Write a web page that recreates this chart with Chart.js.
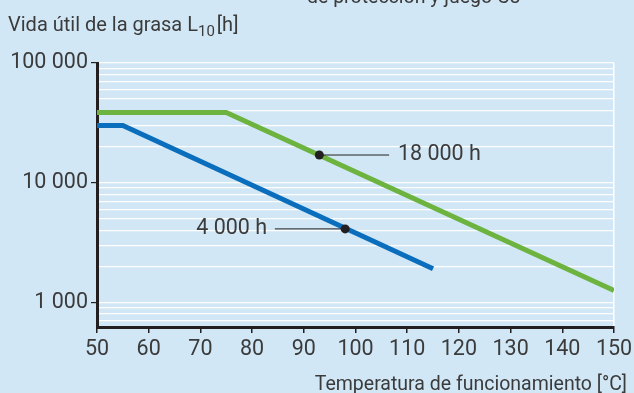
<!DOCTYPE html>
<html>
<head>
<meta charset="utf-8">
<script src="https://cdn.jsdelivr.net/npm/chart.js@4"></script>
<style>
  html, body { margin: 0; padding: 0; background: #d1e7f6; }
  #wrap { width: 634px; height: 393px; }
</style>
</head>
<body>
<div id="wrap"><canvas id="grease" width="634" height="393"></canvas></div>
<script>
// temperatures [°C] and grease life L10 [h]
const greenTemps = [50, 75, 150];
const greenLife = [38500, 38500, 1250];
const blueTemps = [50, 55, 115];
const blueLife = [30000, 30000, 1900];

// marked points and their labels
const markTemps = [93, 98];
const markLife = [17000, 4100];
const markLabels = ['18 000 h', '4 000 h'];
const leaderEnds = [106.5, 84.4];   // where the leader line stops
const labelTemps = [108.2, 82.9];   // where the label text sits

// axes
const tempTicks = [50, 60, 70, 80, 90, 100, 110, 120, 130, 140, 150];
const lifeGrid = [700, 800, 900, 1000, 2000, 3000, 4000, 5000, 6000, 7000, 8000, 9000,
  10000, 20000, 30000, 40000, 50000, 60000, 70000, 80000, 90000, 100000];
const lifeLabels = [1000, 10000, 100000];

const ink = '#231f20';
const textCol = '#3b3b3b';
const fontFam = 'Roboto, "DejaVu Sans", sans-serif';

const toPts = (xs, ys) => xs.map((x, i) => ({ x: x, y: ys[i] }));
const spaced = v => String(v).replace(/\B(?=(\d{3})+(?!\d))/g, ' ');

const leaderSets = markTemps.map((t, i) => ({
  data: [{ x: t, y: markLife[i] }, { x: leaderEnds[i], y: markLife[i] }],
  borderColor: ink,
  borderWidth: 1,
  pointRadius: 0,
  order: 1
}));

const labelsPlugin = {
  id: 'labels',
  afterDraw(chart) {
    const ctx = chart.ctx;
    const xs = chart.scales.x, ys = chart.scales.y;
    ctx.save();
    ctx.fillStyle = textCol;
    ctx.textBaseline = 'middle';
    ctx.font = '21.5px ' + fontFam;
    markLabels.forEach((txt, i) => {
      ctx.textAlign = labelTemps[i] > markTemps[i] ? 'left' : 'right';
      ctx.fillText(txt, xs.getPixelForValue(labelTemps[i]), ys.getPixelForValue(markLife[i]));
    });

    ctx.textBaseline = 'alphabetic';
    ctx.textAlign = 'left';
    ctx.font = '19.5px ' + fontFam;
    // cut off line of the caption above the chart
    ctx.fillText('de protección y juego C3', 307, 3);

    // y axis title with subscript
    let x = 8;
    const base = 31;
    ctx.font = '20px ' + fontFam;
    ctx.fillText('Vida útil de la grasa L', x, base);
    x += ctx.measureText('Vida útil de la grasa L').width;
    ctx.font = '15px ' + fontFam;
    ctx.fillText('10', x, base + 5);
    x += ctx.measureText('10').width + 2;
    ctx.font = '20px ' + fontFam;
    ctx.fillText('[h]', x, base);

    // x axis title
    ctx.textAlign = 'right';
    ctx.font = '19.5px ' + fontFam;
    ctx.fillText('Temperatura de funcionamiento [°C]', 627, 390);
    ctx.restore();
  }
};

new Chart(document.getElementById('grease'), {
  type: 'line',
  data: {
    datasets: [
      {
        data: toPts(markTemps, markLife),
        showLine: false,
        pointRadius: 4.5,
        pointBackgroundColor: ink,
        pointBorderWidth: 0,
        order: 0
      },
      ...leaderSets,
      {
        data: toPts(greenTemps, greenLife),
        borderColor: '#6cb33f',
        borderWidth: 5,
        pointRadius: 0,
        order: 2
      },
      {
        data: toPts(blueTemps, blueLife),
        borderColor: '#0a6ebd',
        borderWidth: 5,
        pointRadius: 0,
        order: 2
      }
    ]
  },
  options: {
    responsive: false,
    animation: false,
    layout: { padding: { left: 0, top: 63, right: 20, bottom: 0 } },
    plugins: { legend: { display: false }, tooltip: { enabled: false } },
    scales: {
      x: {
        type: 'linear',
        min: 50,
        max: 150,
        afterBuildTicks: s => { s.ticks = tempTicks.map(v => ({ value: v })); },
        afterFit: s => { s.height = 66; s.paddingLeft = 0; s.paddingRight = 0; },
        border: { display: true, color: ink, width: 3 },
        grid: {
          color: c => c.tick && c.tick.value === 150 ? '#ffffff' : 'rgba(0,0,0,0)',
          lineWidth: 1.5,
          tickColor: ink,
          tickLength: 6,
          tickWidth: 1.5
        },
        ticks: {
          color: textCol,
          padding: 4,
          font: { family: fontFam, size: 21.5 },
          maxRotation: 0
        }
      },
      y: {
        type: 'logarithmic',
        min: 620,
        max: 100000,
        afterBuildTicks: s => { s.ticks = lifeGrid.map(v => ({ value: v })); },
        afterFit: s => { s.width = 97; s.paddingTop = 0; s.paddingBottom = 0; },
        border: { display: true, color: ink, width: 3 },
        grid: {
          color: '#ffffff',
          lineWidth: 1.2,
          tickColor: c => c.tick && lifeLabels.includes(c.tick.value) ? ink : 'rgba(0,0,0,0)',
          tickLength: 6,
          tickWidth: 1.2
        },
        ticks: {
          color: textCol,
          padding: 3,
          autoSkip: false,
          font: { family: fontFam, size: 21.5 },
          callback: v => lifeLabels.includes(v) ? spaced(v) : ''
        }
      }
    }
  },
  plugins: [labelsPlugin]
});
</script>
</body>
</html>
